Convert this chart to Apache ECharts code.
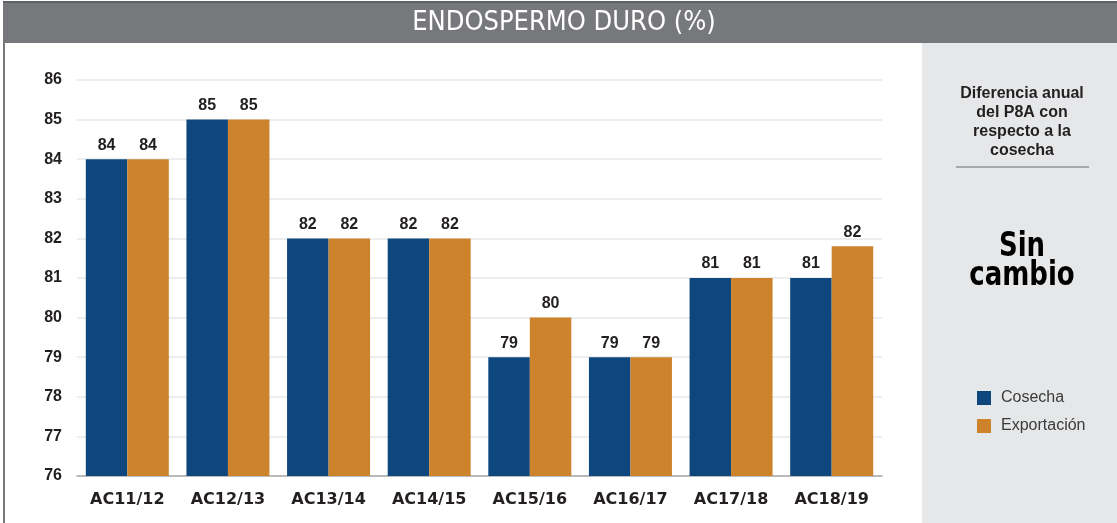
<!DOCTYPE html>
<html>
<head>
<meta charset="utf-8">
<script src="https://cdn.jsdelivr.net/npm/echarts@6/dist/echarts.min.js"></script>
<style>
  html, body { margin: 0; padding: 0; background: #ffffff; }
  #chart { width: 1117px; height: 523px; }
</style>
</head>
<body>
<div id="chart"></div>
<script>
// Harvest seasons on the x axis
const categories = ['AC11/12', 'AC12/13', 'AC13/14', 'AC14/15', 'AC15/16', 'AC16/17', 'AC17/18', 'AC18/19'];
// Hard endosperm (%) by season
const cosecha = [84, 85, 82, 82, 79, 79, 81, 81];
const exportacion = [84, 85, 82, 82, 80, 79, 81, 81.8];
const seriesNames = ['Cosecha', 'Exportación'];
const yTicks = { min: 76, max: 86, interval: 1 };

const BLUE = '#0d477e';
const ORANGE = '#cd822c';
const TEXT = '#231f20';
const NUM_FONT = '"Liberation Sans", Arial, sans-serif';
const CAT_FONT = '"DejaVu Sans", sans-serif';

const chart = echarts.init(document.getElementById('chart'), null, { renderer: 'canvas' });

const barLabel = {
  show: true,
  position: 'top',
  distance: 6,
  color: TEXT,
  fontFamily: NUM_FONT,
  fontWeight: 'bold',
  fontSize: 16,
  formatter: p => Math.round(p.value)
};

chart.setOption({
  animation: false,
  backgroundColor: '#ffffff',
  grid: { left: 77, right: 235, top: 80, bottom: 47, containLabel: false },
  legend: {
    orient: 'vertical',
    left: 977,
    top: 390,
    padding: 0,
    itemWidth: 14,
    itemHeight: 14,
    itemGap: 12,
    icon: 'rect',
    textStyle: { color: '#3a3a3a', fontSize: 16, fontFamily: NUM_FONT, padding: [0, 0, 0, 5] },
    data: seriesNames
  },
  xAxis: {
    type: 'category',
    data: categories,
    axisLine: { show: true, lineStyle: { color: '#a7a9ac', width: 1.5 } },
    axisTick: { show: false },
    axisLabel: {
      color: TEXT, fontFamily: CAT_FONT, fontWeight: 'bold', fontSize: 16, margin: 16
    }
  },
  yAxis: {
    type: 'value',
    min: yTicks.min,
    max: yTicks.max,
    interval: yTicks.interval,
    axisLine: { show: false },
    axisTick: { show: false },
    splitLine: { lineStyle: { color: '#e6e7e8', width: 1.5 } },
    axisLabel: {
      color: TEXT, fontFamily: NUM_FONT, fontWeight: 'bold', fontSize: 16, margin: 15
    }
  },
  series: [
    {
      name: seriesNames[0], type: 'bar', data: cosecha,
      barWidth: 41.5, barGap: '0%',
      itemStyle: { color: BLUE },
      label: barLabel
    },
    {
      name: seriesNames[1], type: 'bar', data: exportacion,
      barWidth: 41.5, barGap: '0%',
      itemStyle: { color: ORANGE },
      label: barLabel
    }
  ],
  graphic: [
    // frame on the left edge
    { type: 'rect', left: 3, top: 40, shape: { width: 2, height: 483 }, style: { fill: '#77787b' }, silent: true },
    // title band
    { type: 'rect', left: 3, top: 2, shape: { width: 1114, height: 41 }, style: { fill: '#77787b' }, silent: true },
    { type: 'rect', left: 3, top: 1, shape: { width: 1114, height: 2 }, style: { fill: '#5f6062' }, silent: true },
    {
      type: 'text', x: 564, y: 23,
      style: {
        text: 'ENDOSPERMO DURO (%)', fill: '#ffffff',
        textAlign: 'center', textVerticalAlign: 'middle',
        font: '27px "DejaVu Sans Condensed", "Liberation Sans Narrow", sans-serif'
      },
      silent: true
    },
    // side panel
    { type: 'rect', left: 922, top: 43, z: -1, shape: { width: 195, height: 480 }, style: { fill: '#e6e7e8' }, silent: true },
    {
      type: 'text', x: 1022, y: 84,
      style: {
        text: 'Diferencia anual\ndel P8A con\nrespecto a la\ncosecha',
        fill: TEXT, textAlign: 'center', textVerticalAlign: 'top',
        font: 'bold 16px "Liberation Sans", Arial, sans-serif', lineHeight: 19
      },
      silent: true
    },
    { type: 'rect', left: 956, top: 166, shape: { width: 133, height: 2 }, style: { fill: '#a7a9ac' }, silent: true },
    {
      type: 'text', x: 1022, y: 233, scaleX: 0.85,
      style: {
        text: 'Sin\ncambio', fill: '#000000', textAlign: 'center', textVerticalAlign: 'top',
        font: 'bold 34px "DejaVu Sans Condensed", sans-serif', lineHeight: 29
      },
      silent: true
    }
  ]
});
</script>
</body>
</html>
